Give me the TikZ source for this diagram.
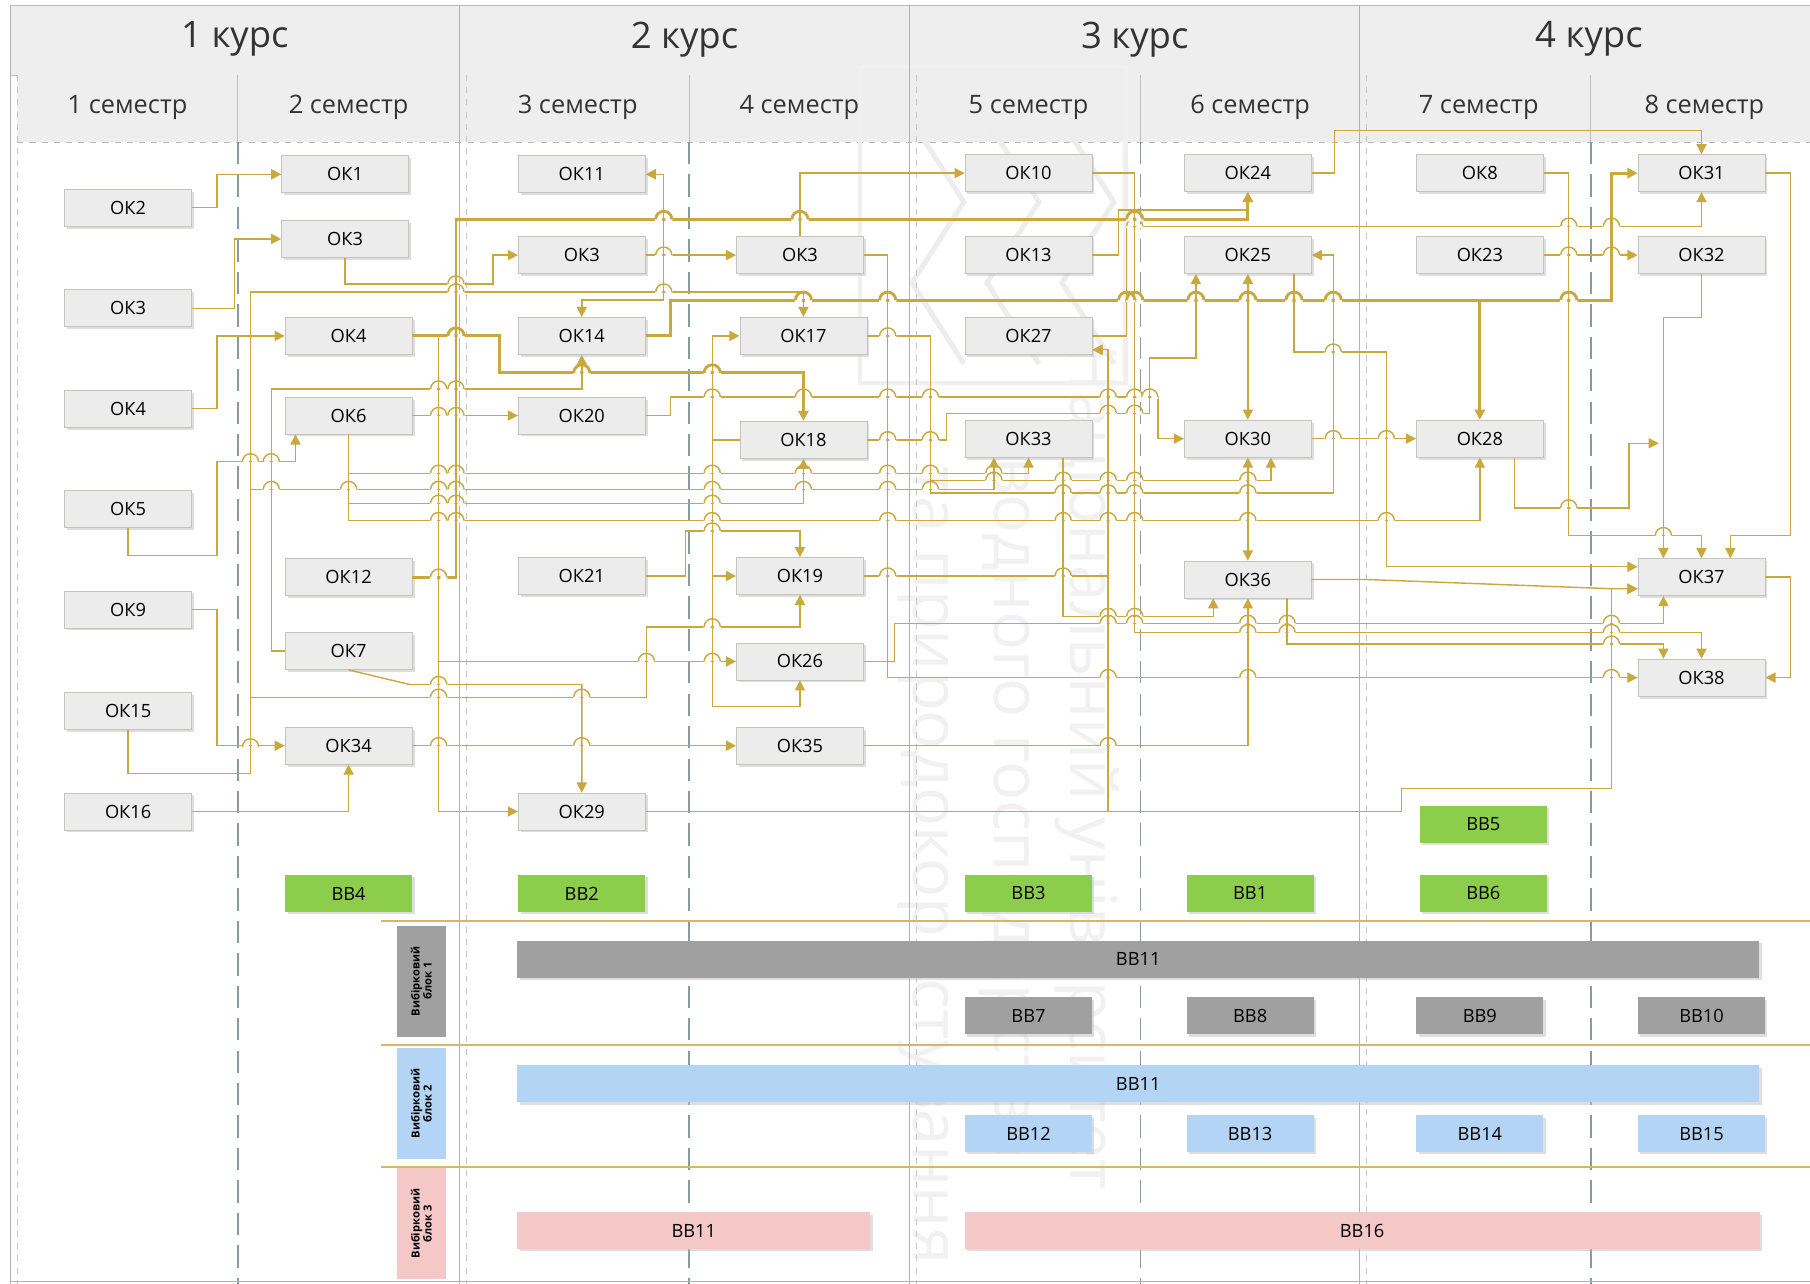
\documentclass[tikz,border=0pt]{standalone}
\usepackage{fontspec}
\setmainfont{Open Sans}
\usetikzlibrary{arrows.meta,calc,shadows}
\definecolor{gold}{RGB}{201,168,62}
\definecolor{boxfill}{RGB}{236,236,236}
\definecolor{boxline}{RGB}{196,196,190}
\definecolor{hdrfill}{RGB}{238,238,238}
\definecolor{slate}{RGB}{135,155,160}
\definecolor{bbgreen}{RGB}{140,205,75}
\definecolor{bbgray}{RGB}{160,160,160}
\definecolor{bbblue}{RGB}{180,212,245}
\definecolor{bbpink}{RGB}{245,200,200}
\newcommand\linkhop[3][0.7pt]{%
  \fill[white] (#2-7.5,#3-1.7) rectangle (#2-1.4,#3+1.7) (#2+1.4,#3-1.7) rectangle (#2+7.5,#3+1.7);
  \draw[gold,line width=#1] (#2-7,#3) arc[start angle=180,end angle=360,radius=7];}
\begin{document}
\begin{tikzpicture}[x=0.02cm,y=-0.02cm,line join=miter,
  okbox/.style={draw=boxline,fill=boxfill,minimum width=2.2cm,minimum height=0.64cm,
    inner sep=0pt,font=\fontsize{9}{10}\selectfont,
    drop shadow={shadow xshift=1.2pt,shadow yshift=-1.2pt,fill=black!25}},
  bbbox/.style={okbox,draw=none},
  bar/.style={okbox,draw=none,minimum height=0.64cm},
  blocklabel/.style={rotate=90,minimum width=1.92cm,minimum height=0.84cm,inner sep=1pt,
    align=center,font=\fontsize{5.5}{6}\selectfont\bfseries},
  hdr/.style={draw=gray!55,fill=hdrfill},
  link/.style={draw=gold,line width=0.7pt,-{Triangle[length=5pt,width=5pt]}},
  linkboth/.style={link,{Triangle[length=5pt,width=5pt]}-{Triangle[length=5pt,width=5pt]}},
  thicklink/.style={link,line width=1.4pt},
  wmark/.style={text=gray!11,font=\fontsize{32}{32}\selectfont,rotate=-90,anchor=west}]
\useasboundingbox (0,0) rectangle (1568,1112);
\fill[white] (0,0) rectangle (1568,1112);
% header
\foreach \a/\b/\lbl in {9/398/1 курс,398/788/2 курс,788/1178/3 курс,1178/1575/4 курс}{
  \draw[hdr] (\a,5) rectangle (\b,65);
  \node[font=\fontsize{18}{20}\selectfont,text=black!80] at ({(\a+\b)/2},34) {\lbl};}
\fill[hdrfill] (15,65) rectangle (1575,123);
\draw[gray!55,dashed] (15,123) -- (1575,123);
\foreach \a/\b/\lbl in {15/206/1,206/398/2,404/597/3,597/788/4,794/988/5,988/1178/6,1184/1378/7,1378/1575/8}
  \node[font=\fontsize{12.5}{14}\selectfont,text=black!80] at ({(\a+\b)/2},93) {\lbl\ семестр};
% logo and watermark
\draw[gray!12,line width=2pt] (745,58) rectangle (975,332);
\foreach \o in {0,65,130}
  \draw[gray!14,line width=2.5pt] (790+\o,105) -- (835+\o,175) -- (790+\o,245) -- (835+\o,315);
\node[wmark] at (800,398) {та природокористування};
\node[wmark] at (870,390) {водного господарства};
\node[wmark] at (942,292) {Національний університет};
% lanes
\draw[gray!60] (9,5) -- (9,1112);
\draw[gray!45,dashed] (15,65) -- (15,1112);
\foreach \x in {398,788,1178}{
  \draw[gray!60] (\x,5) -- (\x,1112);
  \draw[gray!45,dashed] (\x+6,65) -- (\x+6,1112);}
\foreach \x in {206,597,988,1378}{
  \draw[gray!50] (\x,65) -- (\x,123);
  \draw[slate,line width=0.8pt,dash pattern=on 11pt off 5pt] (\x,123) -- (\x,1112);}
\draw[gray!60] (9,1110) -- (1568,1110);
\foreach \y in {798,905,1011}
  \draw[gold!80,line width=0.8pt] (330,\y) -- (1568,\y);
% boxes
\foreach \n/\lbl/\x/\y in {a2/ОК2/111/180,a3/ОК3/111/267,a4/ОК4/111/354,a5/ОК5/111/441,
    a9/ОК9/111/528,a15/ОК15/111/616,a16/ОК16/111/703,
    b1/ОК1/299/151,b3/ОК3/299/207,b4/ОК4/302/291,b6/ОК6/302/360,b12/ОК12/302/500,
    b7/ОК7/302/564,b34/ОК34/302/646,
    c11/ОК11/504/151,c3/ОК3/504/221,c14/ОК14/504/291,c20/ОК20/504/360,c21/ОК21/504/499,
    c29/ОК29/504/703,
    d3/ОК3/693/221,d17/ОК17/696/291,d18/ОК18/696/381,d19/ОК19/693/499,d26/ОК26/693/573,
    d35/ОК35/693/646,
    e10/ОК10/891/150,e13/ОК13/891/221,e27/ОК27/891/291,e33/ОК33/891/380,
    f24/ОК24/1081/150,f25/ОК25/1081/221,f30/ОК30/1081/380,f36/ОК36/1081/502,
    g8/ОК8/1282/150,g23/ОК23/1282/221,g28/ОК28/1282/380,
    h31/ОК31/1474/150,h32/ОК32/1474/221,h37/ОК37/1474/500,h38/ОК38/1474/587}
  \node[okbox] (\n) at (\x,\y) {\lbl};
\foreach \n/\lbl/\x/\y in {bb4/ВВ4/302/774,bb2/ВВ2/504/774,bb3/ВВ3/891/774,bb1/ВВ1/1083/774,
    bb5/ВВ5/1285/714,bb6/ВВ6/1285/774}
  \node[bbbox,fill=bbgreen] (\n) at (\x,\y) {\lbl};
\foreach \n/\lbl/\x in {bb7/ВВ7/891,bb8/ВВ8/1083,bb9/ВВ9/1282,bb10/ВВ10/1474}
  \node[bbbox,fill=bbgray] (\n) at (\x,880) {\lbl};
\foreach \n/\lbl/\x in {bb12/ВВ12/891,bb13/ВВ13/1083,bb14/ВВ14/1282,bb15/ВВ15/1474}
  \node[bbbox,fill=bbblue] (\n) at (\x,982) {\lbl};
\node[bar,fill=bbgray,minimum width=21.52cm] (bg11) at (986,831) {ВВ11};
\node[bar,fill=bbblue,minimum width=21.52cm] (bl11) at (986,939) {ВВ11};
\node[bar,fill=bbpink,minimum width=6.12cm] (pk11) at (601,1066) {ВВ11};
\node[bar,fill=bbpink,minimum width=13.78cm] (pk16) at (1180,1066) {ВВ16};
\node[blocklabel,fill=bbgray] (blk1) at (365,850) {Вибірковий\\блок 1};
\node[blocklabel,fill=bbblue] (blk2) at (365,956) {Вибірковий\\блок 2};
\node[blocklabel,fill=bbpink] (blk3) at (365,1060) {Вибірковий\\блок 3};
% links
\draw[link] (a2.east) -- (188,180) |- (b1.west);
\draw[link] (a3.east) -- (203,267) |- (b3.west);
\draw[link] (a4.east) -- (188,354) |- (b4.west);
\draw[link] (a5.south) |- (188,481) |- (256,400) -- ($(b6.south)+(-46,0)$);
\draw[link] (a9.east) -- (188,528) |- (b34.west);
\draw[link] (a15.south) |- (217,670) |- (696,253) -- (d17.north);
\draw[link] (a15.south) |- (217,670) |- (560,604) |- (693,543) -- (d19.south);
\draw[link] (a15.south) |- (217,670) |- (861,424) -- ($(e33.south)+(-30,0)$);
\draw[link] (a16.east) -| (b34.south);
\draw[link] (b3.south) |- (427,246) |- (c3.west);
\draw[thicklink] (b4.east) -- (433,291) |- (696,323) -- (d18.north);
\draw[link] (b4.east) -- (380,291) |- (c29.west);
\draw[link] (b4.east) -- (380,291) |- (d26.west);
\draw[link] (b6.east) -- (c20.west);
\draw[link] (b6.south) |- (891,410) -- (e33.south);
\draw[link] (b6.south) |- (696,436) -- (d18.south);
\draw[link] (b6.south) |- (1282,451) -- (g28.south);
\draw[thicklink] (b12.east) -- (395,500) |- (1081,190) -- (f24.south);
\draw[link] (b7.west) -- (235,564) |- (504,337) -- (c14.south);
\draw[link] (b7.south) -- (355,593) -| (c29.north);
\draw[link] (b34.east) -- (d35.west);
\draw[link] (c3.east) -- (d3.west);
\draw[linkboth] (c11.east) -- (575,151) |- (504,260) -- (c14.north);
\draw[thicklink] (c14.east) -- (581,291) |- (1396,260) |- (h31.west);
\draw[thicklink] (c14.east) -- (581,291) |- (1282,260) -- (g28.north);
\draw[link] (c20.east) -- (581,360) |- (1003,344) |- (f30.west);
\draw[link] (c21.east) -- (594,499) |- (693,460) -- (d19.north);
\draw[link] (c29.east) -- (1214,703) |- (1396,683) |- ($(h37.west)+(0,10)$);
\draw[link] (c29.east) -- (960,703) |- ($(e27.east)+(0,12)$);
\draw[link] (d3.north) |- (e10.west);
\draw[link] (d3.east) -- (769,221) |- (h38.west);
\draw[link] (d18.west) -- (617,381) |- (d17.west);
\draw[link] (d18.west) -- (617,381) |- (d19.west);
\draw[link] (d18.west) -- (617,381) |- (693,612) -- (d26.south);
\draw[link] (d17.east) -- (806,291) |- (1155,427) |- (f25.east);
\draw[link] (d17.east) -- (806,291) |- (1101,416) -- ($(f30.south)+(20,0)$);
\draw[link] (d18.east) -- (820,381) |- (996,358) |- (1036,310) -- ($(f25.south)+(-45,0)$);
\draw[link] (d19.east) -- (960,499) |- ($(e27.east)+(0,12)$);
\draw[link] (d26.east) -- (775,573) |- (1441,540) -- ($(h37.south)+(-33,0)$);
\draw[link] (d35.east) -| (f36.south);
\draw[link] (e10.east) -- (983,150) |- (1474,548) -- (h38.north);
\draw[link] (e13.east) -- (969,221) |- (1081,182) -- (f24.south);
\draw[link] (e27.east) -- (976,291) |- (1474,196) -- (h31.south);
\draw[link] ($(e33.south)+(30,0)$) |- (1051,534) -- ($(f36.south)+(-30,0)$);
\draw[link] (f24.east) -- (1156,150) |- (1474,113) -- (h31.north);
\draw[linkboth] (f25.south) -- (f30.north);
\draw[linkboth] (f30.south) -- (f36.north);
\draw[link] (f30.east) -- (g28.west);
\draw[link] ($(f25.south)+(40,0)$) |- (1201,305) |- ($(h37.west)+(0,-9)$);
\draw[link] (f36.east) -- (1184,502) -- (1396,510) -- ($(h37.west)+(0,10)$);
\draw[link] ($(f36.south)+(34,0)$) |- (1441,558) -- ($(h38.north)+(-33,0)$);
\draw[link] (g8.east) -- (1359,150) |- (1474,464) -- (h37.north);
\draw[link] (g23.east) -- (h32.west);
\coordinate (j28) at (1437,384);
\draw[link] ($(g28.south)+(30,0)$) |- (1411,440) |- (j28);
\draw[link] (h32.south) |- (1441,275) -- ($(h37.north)+(-33,0)$);
\draw[link] (h31.east) -- (1551,150) |- (1499,464) -- ($(h37.north)+(25,0)$);
\draw[link] (h37.east) -- (1551,500) |- (h38.east);
% hops
\foreach \x/\y in {395/246,395/253,575/253,575/221,1359/221,1396/221,983/196,1359/196,1396/196,
    769/291,1155/305,380/337,395/337,617/344,696/344,769/344,806/344,960/344,983/344,996/344,
    960/358,983/358,380/360,395/360,1155/380,1201/380,769/381,806/381,217/400,235/400,
    380/410,395/410,617/410,696/410,769/410,806/410,861/410,
    861/416,921/416,960/416,983/416,1081/416,
    235/424,302/424,380/424,395/424,617/424,696/424,769/424,806/424,
    921/427,960/427,983/427,1081/427,380/436,395/436,617/436,1359/440,
    380/451,395/451,617/451,769/451,921/451,960/451,983/451,1081/451,1201/451,
    617/460,1441/464,769/499,921/499,380/500,960/534,983/534,
    960/540,983/540,1081/540,1115/540,1396/540,617/543,1081/548,1115/548,1396/548,1396/558,
    560/573,617/573,960/587,1081/587,1396/587,380/593,380/604,504/604,
    380/646,504/646,960/646,217/647}
  \linkhop{\x}{\y};
\foreach \x/\y in {575/190,693/190,983/190,696/260,769/260,976/260,983/260,1036/260,1081/260,
    1121/260,1155/260,1359/260,395/291,504/323,617/323}
  \linkhop[1.4pt]{\x}{\y};
\end{tikzpicture}
\end{document}
